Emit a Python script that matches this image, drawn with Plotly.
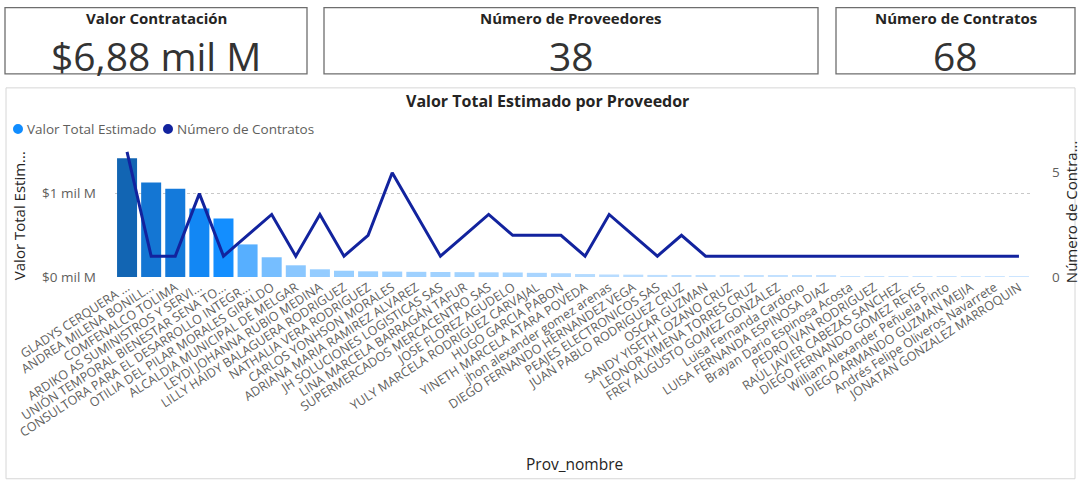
import plotly.graph_objects as go

# ---------------- data ----------------
proveedores = [
    "GLADYS CERQUERA ...", "ANDREA MILENA BONILL...", "COMFENALCO TOLIMA",
    "ARDIKO AS SUMINISTROS Y SERVI...", "UNIÓN TEMPORAL BIENESTAR SENA TO...",
    "CONSULTORA PARA EL DESARROLLO INTEGR...", "OTILIA DEL PILAR MORALES GIRALDO",
    "ALCALDIA MUNICIPAL DE MELGAR", "LEYDI JOHANNA RUBIO MEDINA",
    "LILLY HAIDY BALAGUERA RODRIGUEZ", "NATHALIA VERA RODRIGUEZ",
    "CARLOS YONHSON MORALES", "ADRIANA MARIA RAMIREZ ALVAREZ",
    "JH SOLUCIONES LOGISTICAS SAS", "LINA MARCELA BARRAGÁN TAFUR",
    "SUPERMERCADOS MERCACENTRO SAS", "JOSE FLOREZ AGUDELO",
    "YULY MARCELA RODRIGUEZ CARVAJAL", "HUGO GARCIA PABON",
    "YINETH MARCELA ATARA POVEDA", "jhon alexander gomez arenas",
    "DIEGO FERNANDO HERNANDEZ VEGA", "PEAJES ELECTRONICOS SAS",
    "JUAN PABLO RODRIGUEZ CRUZ", "OSCAR GUZMAN", "SANDY YISETH LOZANO CRUZ",
    "LEONOR XIMENA TORRES CRUZ", "FREY AUGUSTO GOMEZ GONZALEZ",
    "Luisa Fernanda Cardono", "LUISA FERNANDA ESPINOSA DIAZ",
    "Brayan Dario Espinosa Acosta", "PEDRO IVAN RODRIGUEZ",
    "RAÚL JAVIER CABEZAS SANCHEZ", "DIEGO FERNANDO GOMEZ REYES",
    "William Alexander Peñuela Pinto", "DIEGO ARMANDO GUZMAN MEJIA",
    "Andrés Felipe Oliveros Navarrete", "JONATAN GONZALEZ MARROQUIN",
]
valor_total_estimado = [
    1.42e9, 1.13e9, 1.055e9, 0.82e9, 0.70e9, 0.39e9, 0.236e9, 0.14e9,
    0.092e9, 0.075e9, 0.068e9, 0.065e9, 0.062e9, 0.060e9, 0.058e9, 0.056e9,
    0.054e9, 0.050e9, 0.045e9, 0.035e9, 0.030e9, 0.028e9, 0.025e9, 0.022e9,
    0.020e9, 0.018e9, 0.017e9, 0.016e9, 0.015e9, 0.013e9, 0.012e9, 0.011e9,
    0.010e9, 0.009e9, 0.008e9, 0.007e9, 0.006e9, 0.005e9,
]
numero_contratos = [
    6, 1, 1, 4, 1, 2, 3, 1, 3, 1, 2, 5, 3, 1, 2, 3, 2, 2, 2, 1, 3, 2, 1, 2,
    1, 1, 1, 1, 1, 1, 1, 1, 1, 1, 1, 1, 1, 1,
]
card_titles = ["Valor Contratación", "Número de Proveedores", "Número de Contratos"]
card_values = ["$6,88 mil M", "38", "68"]
left_ticks = [0, 1e9]
left_ticktext = ["$0 mil M", "$1 mil M"]
right_ticks = [0, 5]

# ---------------- layout geometry (pixels) ----------------
W, H = 1080, 481
L, R, T, B = 115, 1031, 145, 276.7
PW, PH = R - L, B - T

def px(x):
    return (x - L) / PW

def py(y):
    return (B - y) / PH

FONT = "Segoe UI, Open Sans, sans-serif"
GREY = "#605E5C"
DARK = "#252423"

fig = go.Figure()
fig.add_trace(go.Bar(
    x=proveedores, y=valor_total_estimado, name="Valor Total Estimado",
    marker=dict(
        color=valor_total_estimado, cmin=0, cmax=max(valor_total_estimado),
        colorscale=[[0, "#D0E7FF"], [0.05, "#98CEFF"], [0.28, "#55AEFF"],
                    [0.5, "#118DFF"], [0.78, "#1477D6"], [1, "#1265B3"]],
        line=dict(width=0)),
    showlegend=False,
))
fig.add_trace(go.Scatter(
    x=proveedores, y=numero_contratos, name="Número de Contratos",
    yaxis="y2", mode="lines", line=dict(color="#12239E", width=3),
    showlegend=False,
))

shapes = []
annotations = []

# cards
cards = [(5, 307), (324, 818), (836, 1075)]
for (x0, x1), t, v in zip(cards, card_titles, card_values):
    shapes.append(dict(type="rect", xref="paper", yref="paper",
                       x0=px(x0), x1=px(x1), y0=py(74), y1=py(8),
                       line=dict(color="#6E6E6E", width=1.3), layer="below"))
    cx = px((x0 + x1) / 2)
    annotations.append(dict(xref="paper", yref="paper", x=cx, y=py(18.5),
                            text="<b>%s</b>" % t, showarrow=False,
                            font=dict(family=FONT, size=15, color=DARK),
                            xanchor="center", yanchor="middle"))
    annotations.append(dict(xref="paper", yref="paper", x=cx, y=py(56),
                            text=v, showarrow=False,
                            font=dict(family=FONT, size=39, color="#333333"),
                            xanchor="center", yanchor="middle"))

# chart panel
shapes.append(dict(type="rect", xref="paper", yref="paper",
                   x0=px(6), x1=px(1075), y0=py(478), y1=py(88),
                   line=dict(color="#D6D6D6", width=1), layer="below"))
annotations.append(dict(xref="paper", yref="paper", x=px(547), y=py(101),
                        text="<b>Valor Total Estimado por Proveedor</b>",
                        showarrow=False, xanchor="center", yanchor="middle",
                        font=dict(family=FONT, size=16, color=DARK)))

# legend
leg = [(18, "#118DFF", "Valor Total Estimado"), (168, "#12239E", "Número de Contratos")]
for cx, col, txt in leg:
    shapes.append(dict(type="circle", xref="paper", yref="paper",
                       x0=px(cx - 5), x1=px(cx + 5), y0=py(134), y1=py(124),
                       fillcolor=col, line=dict(width=0)))
    annotations.append(dict(xref="paper", yref="paper", x=px(cx + 7), y=py(129),
                            text=txt, showarrow=False, xanchor="left",
                            yanchor="middle",
                            font=dict(family=FONT, size=13.5, color=GREY)))

# axis titles
annotations.append(dict(xref="paper", yref="paper", x=px(19), y=py(216),
                        text="Valor Total Estim...", textangle=-90,
                        showarrow=False, xanchor="center", yanchor="middle",
                        font=dict(family=FONT, size=15, color=DARK)))
annotations.append(dict(xref="paper", yref="paper", x=px(1071), y=py(212),
                        text="Número de Contra...", textangle=-90,
                        showarrow=False, xanchor="center", yanchor="middle",
                        font=dict(family=FONT, size=15, color=DARK)))
annotations.append(dict(xref="paper", yref="paper", x=px(574), y=py(463),
                        text="Prov_nombre", showarrow=False,
                        xanchor="center", yanchor="middle",
                        font=dict(family=FONT, size=15.5, color=DARK)))

fig.update_layout(
    width=W, height=H,
    margin=dict(l=L, r=W - R, t=T, b=H - B, pad=0),
    paper_bgcolor="white", plot_bgcolor="white",
    font=dict(family=FONT, color=GREY),
    bargap=0.17,
    shapes=shapes, annotations=annotations,
    xaxis=dict(tickangle=-33, tickfont=dict(size=12.5, color=GREY),
               showgrid=False, showline=False, ticks="", automargin=False,
               range=[-0.5, len(proveedores) - 0.5]),
    yaxis=dict(range=[0, PH / 83.4 * 1e9], tickvals=left_ticks,
               ticktext=left_ticktext, tickfont=dict(size=13.5, color=GREY),
               showgrid=True, gridcolor="#C8C8C8", griddash="dot",
               gridwidth=1, zeroline=False, showline=False, ticks="",
               ticklabelstandoff=18, automargin=False),
    yaxis2=dict(overlaying="y", side="right",
                range=[0, PH / 20.8], tickvals=right_ticks,
                tickfont=dict(size=13.5, color=GREY), showgrid=False,
                zeroline=False, showline=False, ticks="",
                ticklabelstandoff=20, automargin=False),
)

fig.write_html(
    "out.html",
    config={"displayModeBar": False},
    post_script="document.body.style.margin='0px';document.body.style.overflow='hidden';",
)
